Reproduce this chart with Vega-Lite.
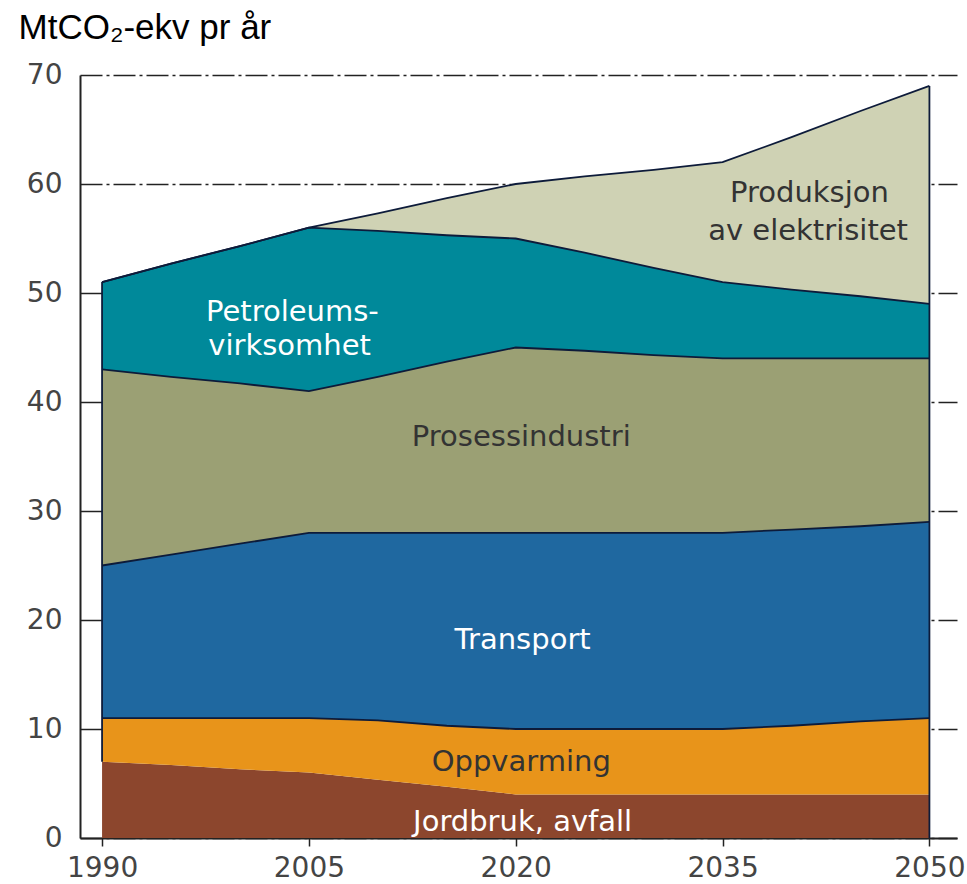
{
  "$schema": "https://vega.github.io/schema/vega-lite/v6.json",
  "width": 877,
  "height": 763,
  "autosize": "none",
  "padding": {"left": 80, "top": 75, "right": 10, "bottom": 46},
  "background": "white",
  "config": {
    "view": {"stroke": null},
    "font": "DejaVu Sans",
    "axis": {
      "labelFont": "DejaVu Sans",
      "labelFontSize": 28,
      "labelColor": "#444444",
      "domainColor": "#222222",
      "domainWidth": 2,
      "labelFlush": false
    },
    "axisX": {
      "grid": false, "tickSize": 8, "tickColor": "#222222", "tickWidth": 1.5,
      "labelPadding": 8, "zindex": 1
    },
    "axisY": {
      "grid": true, "gridDash": [22, 4, 3, 4], "gridColor": "#222222", "gridWidth": 1.5,
      "ticks": false, "labelPadding": 18,
      "titleAngle": 0, "titleX": -62, "titleY": -37,
      "titleAlign": "left", "titleBaseline": "alphabetic",
      "titleFont": "Liberation Sans", "titleFontSize": 35, "titleFontWeight": "normal", "titleColor": "#000000"
    }
  },
  "datasets": {
    "emissions": [
      {"year": 1990, "series": "Jordbruk, avfall", "value": 7},
      {"year": 1990, "series": "Oppvarming", "value": 4},
      {"year": 1990, "series": "Transport", "value": 14},
      {"year": 1990, "series": "Prosessindustri", "value": 18},
      {"year": 1990, "series": "Petroleumsvirksomhet", "value": 8},
      {"year": 1990, "series": "Produksjon av elektrisitet", "value": 0},
      {"year": 1995, "series": "Jordbruk, avfall", "value": 6.7},
      {"year": 1995, "series": "Oppvarming", "value": 4.3},
      {"year": 1995, "series": "Transport", "value": 15},
      {"year": 1995, "series": "Prosessindustri", "value": 16.3},
      {"year": 1995, "series": "Petroleumsvirksomhet", "value": 10.4},
      {"year": 1995, "series": "Produksjon av elektrisitet", "value": 0},
      {"year": 2000, "series": "Jordbruk, avfall", "value": 6.3},
      {"year": 2000, "series": "Oppvarming", "value": 4.7},
      {"year": 2000, "series": "Transport", "value": 16},
      {"year": 2000, "series": "Prosessindustri", "value": 14.7},
      {"year": 2000, "series": "Petroleumsvirksomhet", "value": 12.6},
      {"year": 2000, "series": "Produksjon av elektrisitet", "value": 0},
      {"year": 2005, "series": "Jordbruk, avfall", "value": 6},
      {"year": 2005, "series": "Oppvarming", "value": 5},
      {"year": 2005, "series": "Transport", "value": 17},
      {"year": 2005, "series": "Prosessindustri", "value": 13},
      {"year": 2005, "series": "Petroleumsvirksomhet", "value": 15},
      {"year": 2005, "series": "Produksjon av elektrisitet", "value": 0},
      {"year": 2010, "series": "Jordbruk, avfall", "value": 5.35},
      {"year": 2010, "series": "Oppvarming", "value": 5.45},
      {"year": 2010, "series": "Transport", "value": 17.2},
      {"year": 2010, "series": "Prosessindustri", "value": 14.3},
      {"year": 2010, "series": "Petroleumsvirksomhet", "value": 13.4},
      {"year": 2010, "series": "Produksjon av elektrisitet", "value": 1.6},
      {"year": 2015, "series": "Jordbruk, avfall", "value": 4.7},
      {"year": 2015, "series": "Oppvarming", "value": 5.6},
      {"year": 2015, "series": "Transport", "value": 17.7},
      {"year": 2015, "series": "Prosessindustri", "value": 15.7},
      {"year": 2015, "series": "Petroleumsvirksomhet", "value": 11.6},
      {"year": 2015, "series": "Produksjon av elektrisitet", "value": 3.4},
      {"year": 2020, "series": "Jordbruk, avfall", "value": 4},
      {"year": 2020, "series": "Oppvarming", "value": 6},
      {"year": 2020, "series": "Transport", "value": 18},
      {"year": 2020, "series": "Prosessindustri", "value": 17},
      {"year": 2020, "series": "Petroleumsvirksomhet", "value": 10},
      {"year": 2020, "series": "Produksjon av elektrisitet", "value": 5},
      {"year": 2025, "series": "Jordbruk, avfall", "value": 4},
      {"year": 2025, "series": "Oppvarming", "value": 6},
      {"year": 2025, "series": "Transport", "value": 18},
      {"year": 2025, "series": "Prosessindustri", "value": 16.7},
      {"year": 2025, "series": "Petroleumsvirksomhet", "value": 9},
      {"year": 2025, "series": "Produksjon av elektrisitet", "value": 7},
      {"year": 2030, "series": "Jordbruk, avfall", "value": 4},
      {"year": 2030, "series": "Oppvarming", "value": 6},
      {"year": 2030, "series": "Transport", "value": 18},
      {"year": 2030, "series": "Prosessindustri", "value": 16.3},
      {"year": 2030, "series": "Petroleumsvirksomhet", "value": 8},
      {"year": 2030, "series": "Produksjon av elektrisitet", "value": 9},
      {"year": 2035, "series": "Jordbruk, avfall", "value": 4},
      {"year": 2035, "series": "Oppvarming", "value": 6},
      {"year": 2035, "series": "Transport", "value": 18},
      {"year": 2035, "series": "Prosessindustri", "value": 16},
      {"year": 2035, "series": "Petroleumsvirksomhet", "value": 7},
      {"year": 2035, "series": "Produksjon av elektrisitet", "value": 11},
      {"year": 2040, "series": "Jordbruk, avfall", "value": 4},
      {"year": 2040, "series": "Oppvarming", "value": 6.3},
      {"year": 2040, "series": "Transport", "value": 18},
      {"year": 2040, "series": "Prosessindustri", "value": 15.7},
      {"year": 2040, "series": "Petroleumsvirksomhet", "value": 6.3},
      {"year": 2040, "series": "Produksjon av elektrisitet", "value": 14},
      {"year": 2045, "series": "Jordbruk, avfall", "value": 4},
      {"year": 2045, "series": "Oppvarming", "value": 6.7},
      {"year": 2045, "series": "Transport", "value": 17.9},
      {"year": 2045, "series": "Prosessindustri", "value": 15.4},
      {"year": 2045, "series": "Petroleumsvirksomhet", "value": 5.7},
      {"year": 2045, "series": "Produksjon av elektrisitet", "value": 17},
      {"year": 2050, "series": "Jordbruk, avfall", "value": 4},
      {"year": 2050, "series": "Oppvarming", "value": 7},
      {"year": 2050, "series": "Transport", "value": 18},
      {"year": 2050, "series": "Prosessindustri", "value": 15},
      {"year": 2050, "series": "Petroleumsvirksomhet", "value": 5},
      {"year": 2050, "series": "Produksjon av elektrisitet", "value": 20}
    ],
    "labels": [
      {"year": 2041.3, "value": 59.2, "label": "Produksjon", "series": "Produksjon av elektrisitet"},
      {"year": 2041.2, "value": 55.7, "label": "av elektrisitet", "series": "Produksjon av elektrisitet"},
      {"year": 2003.8, "value": 48.3, "label": "Petroleums-", "series": "Petroleumsvirksomhet"},
      {"year": 2003.6, "value": 45.1, "label": "virksomhet", "series": "Petroleumsvirksomhet"},
      {"year": 2020.4, "value": 36.8, "label": "Prosessindustri", "series": "Prosessindustri"},
      {"year": 2020.5, "value": 18.2, "label": "Transport", "series": "Transport"},
      {"year": 2020.4, "value": 7.0, "label": "Oppvarming", "series": "Oppvarming"},
      {"year": 2020.5, "value": 1.5, "label": "Jordbruk, avfall", "series": "Jordbruk, avfall"}
    ]
  },
  "layer": [
    {
      "data": {"name": "emissions"},
      "transform": [
        {"calculate": "indexof(['Jordbruk, avfall','Oppvarming','Transport','Prosessindustri','Petroleumsvirksomhet','Produksjon av elektrisitet'], datum.series)", "as": "k"},
        {"stack": "value", "groupby": ["year"], "sort": [{"field": "k", "order": "ascending"}], "as": ["v0", "v1"]}
      ],
      "mark": {"type": "area", "opacity": 1},
      "encoding": {
        "x": {
          "field": "year", "type": "quantitative", "title": null,
          "scale": {"domain": [1988.4, 2052], "nice": false, "zero": false},
          "axis": {"values": [1990, 2005, 2020, 2035, 2050], "format": "d"}
        },
        "y": {
          "field": "v1", "type": "quantitative", "title": "MtCO₂-ekv pr år",
          "scale": {"domain": [0, 70], "nice": false},
          "axis": {"values": [0, 10, 20, 30, 40, 50, 60, 70]}
        },
        "y2": {"field": "v0"},
        "color": {
          "field": "series", "type": "nominal", "legend": null,
          "scale": {
            "domain": ["Jordbruk, avfall", "Oppvarming", "Transport", "Prosessindustri", "Petroleumsvirksomhet", "Produksjon av elektrisitet"],
            "range": ["#8C462D", "#E8941A", "#1F68A0", "#9BA074", "#00899A", "#CFD2B4"]
          }
        },
        "order": {"field": "k", "type": "quantitative"}
      }
    },
    {
      "data": {"name": "emissions"},
      "transform": [
        {"calculate": "indexof(['Jordbruk, avfall','Oppvarming','Transport','Prosessindustri','Petroleumsvirksomhet','Produksjon av elektrisitet'], datum.series)", "as": "k"},
        {"stack": "value", "groupby": ["year"], "sort": [{"field": "k", "order": "ascending"}], "as": ["v0", "v1"]},
        {"filter": "datum.series !== 'Jordbruk, avfall'"}
      ],
      "mark": {"type": "line", "color": "#0D1B3A", "strokeWidth": 1.8},
      "encoding": {
        "x": {"field": "year", "type": "quantitative", "title": null, "axis": {"values": [1990, 2005, 2020, 2035, 2050], "format": "d"}},
        "y": {"field": "v1", "type": "quantitative", "title": "MtCO₂-ekv pr år", "axis": {"values": [0, 10, 20, 30, 40, 50, 60, 70]}},
        "detail": {"field": "series"}
      }
    },
    {
      "data": {"name": "emissions"},
      "transform": [
        {"calculate": "indexof(['Jordbruk, avfall','Oppvarming','Transport','Prosessindustri','Petroleumsvirksomhet','Produksjon av elektrisitet'], datum.series)", "as": "k"},
        {"stack": "value", "groupby": ["year"], "sort": [{"field": "k", "order": "ascending"}], "as": ["v0", "v1"]},
        {"filter": "datum.year === 1990 || datum.year === 2050"},
        {"filter": "datum.series !== 'Jordbruk, avfall' || datum.year === 2050"},
        {"aggregate": [{"op": "min", "field": "v0", "as": "lo"}, {"op": "max", "field": "v1", "as": "hi"}], "groupby": ["year"]}
      ],
      "mark": {"type": "rule", "color": "#0D1B3A", "strokeWidth": 1.8},
      "encoding": {
        "x": {"field": "year", "type": "quantitative", "title": null, "axis": {"values": [1990, 2005, 2020, 2035, 2050], "format": "d"}},
        "y": {"field": "lo", "type": "quantitative", "title": "MtCO₂-ekv pr år", "axis": {"values": [0, 10, 20, 30, 40, 50, 60, 70]}},
        "y2": {"field": "hi"}
      }
    },
    {
      "data": {"name": "labels"},
      "mark": {"type": "text", "font": "DejaVu Sans", "fontSize": 29, "align": "center", "baseline": "middle"},
      "encoding": {
        "x": {"field": "year", "type": "quantitative", "title": null, "axis": {"values": [1990, 2005, 2020, 2035, 2050], "format": "d"}},
        "y": {"field": "value", "type": "quantitative", "title": "MtCO₂-ekv pr år", "axis": {"values": [0, 10, 20, 30, 40, 50, 60, 70]}},
        "text": {"field": "label"},
        "color": {
          "condition": {"test": "datum.series === 'Petroleumsvirksomhet' || datum.series === 'Transport' || datum.series === 'Jordbruk, avfall'", "value": "#FFFFFF"},
          "value": "#333333"
        }
      }
    }
  ]
}
